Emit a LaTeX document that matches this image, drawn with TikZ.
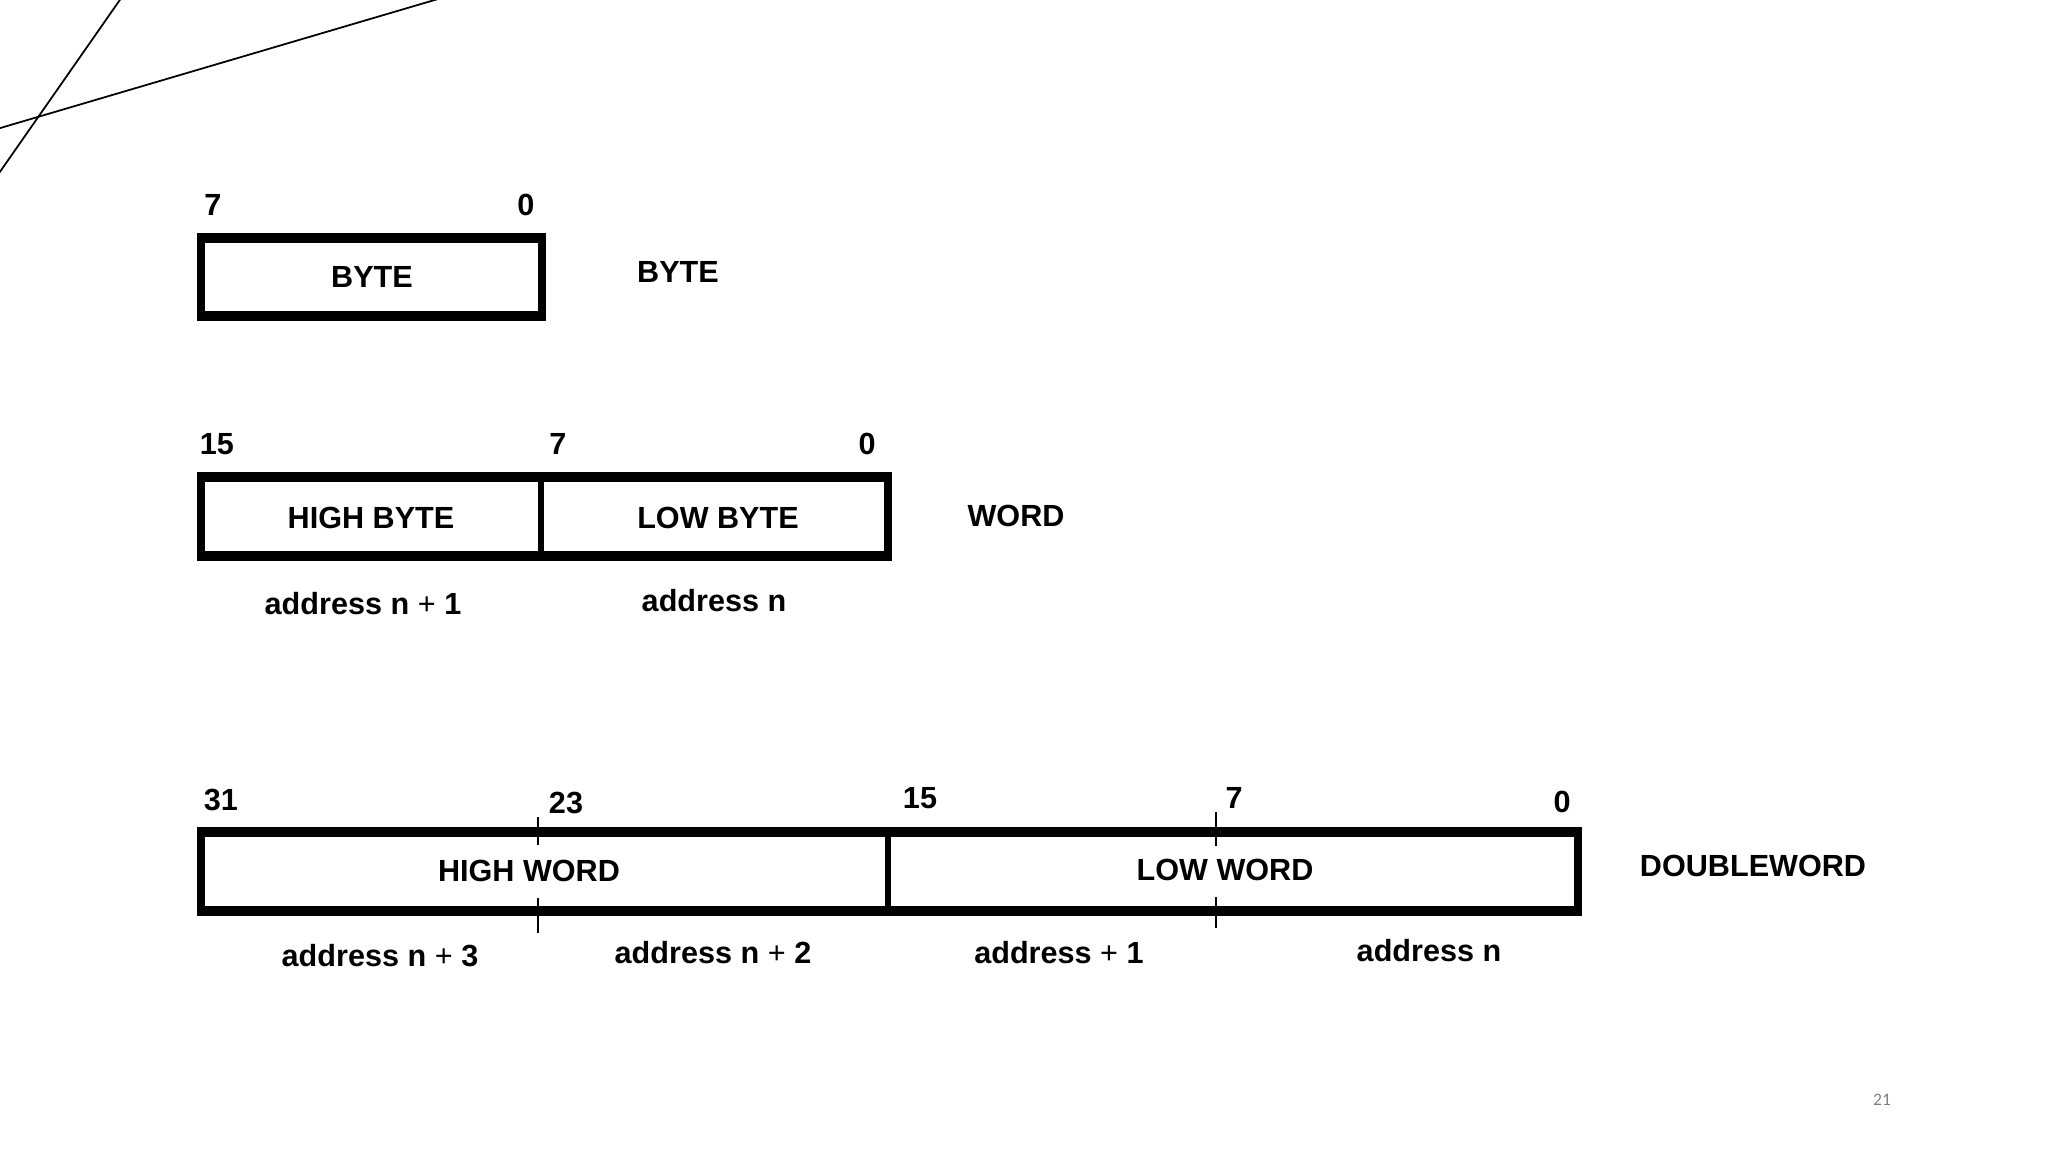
\documentclass[tikz,border=0pt]{standalone}
\usepackage{fontspec}
\setmainfont{Liberation Sans}
\newfontfamily\pgnumfont{Carlito}
\newcommand\plusgap{\hspace{0.28em}{\mdseries+}\hspace{0.28em}}
\tikzset{
  lbl/.style={font=\fontsize{8.7}{10}\selectfont\bfseries, inner sep=0pt, anchor=base},
  regbox/.style={line width=2.2pt},
  hedge/.style={line width=3pt, line cap=rect, shorten <=0.4pt, shorten >=0.4pt},
  divline/.style={line width=1.6pt},
  tickline/.style={line width=0.6pt},
  deco/.style={line width=0.5pt}
}
\begin{document}
\begin{tikzpicture}[x=0.01cm,y=-0.01cm]
\useasboundingbox (0,0) rectangle (2048,1152);
% decorative lines
\begin{scope}
\clip (0,0) rectangle (2048,1152);
\coordinate (d1a) at (-12,189);
\coordinate (d1b) at (124,-6);
\coordinate (d2a) at (-20,134);
\coordinate (d2b) at (455,-6);
\draw[deco] (d1a) -- (d1b);
\draw[deco] (d2a) -- (d2b);
\end{scope}

% BYTE
\draw[regbox] (201,238) rectangle (542,316);
\draw[hedge] (201,238) -- (542,238);
\draw[hedge] (201,316) -- (542,316);
\node[lbl] (b7) at (213,216) {7};
\node[lbl] (b0) at (526,216) {0};
\node[lbl] (bin) at (372,288) {BYTE};
\node[lbl] (bname) at (678,283) {BYTE};

% WORD
\draw[regbox] (201,477) rectangle (888,556);
\draw[hedge] (201,477) -- (888,477);
\draw[hedge] (201,556) -- (888,556);
\draw[divline] (541,477) -- (541,556);
\node[lbl] (w15) at (217,455) {15};
\node[lbl] (w7) at (558,455) {7};
\node[lbl] (w0) at (867,455) {0};
\node[lbl] (whi) at (371,528) {HIGH BYTE};
\node[lbl] (wlo) at (718,528) {LOW BYTE};
\node[lbl] (wname) at (1016,527) {WORD};
\node[lbl] (wa1) at (363,614) {address n\plusgap 1};
\node[lbl] (wa0) at (714,612) {address n};

% DOUBLEWORD
\draw[regbox] (201,832) rectangle (1578,911);
\draw[hedge] (201,832) -- (1578,832);
\draw[hedge] (201,911) -- (1578,911);
\draw[divline] (888,832) -- (888,911);
\coordinate (t1a) at (538,817);
\coordinate (t1b) at (538,845);
\coordinate (t1c) at (538,898);
\coordinate (t1d) at (538,933);
\coordinate (t2a) at (1216,812);
\coordinate (t2b) at (1216,846);
\coordinate (t2c) at (1216,897);
\coordinate (t2d) at (1216,928);
\draw[tickline] (t1a) -- (t1b);
\draw[tickline] (t1c) -- (t1d);
\draw[tickline] (t2a) -- (t2b);
\draw[tickline] (t2c) -- (t2d);
\node[lbl] (d31) at (221,810) {31};
\node[lbl] (d23) at (566,813) {23};
\node[lbl] (d15) at (920,808) {15};
\node[lbl] (d7) at (1234,808) {7};
\node[lbl] (d0) at (1562,812) {0};
\node[lbl] (dhi) at (529,881) {HIGH WORD};
\node[lbl] (dlo) at (1225,880) {LOW WORD};
\node[lbl] (dname) at (1753,876) {DOUBLEWORD};
\node[lbl] (da3) at (380,966) {address n\plusgap 3};
\node[lbl] (da2) at (713,963) {address n\plusgap 2};
\node[lbl] (da1) at (1059,963) {address\plusgap 1};
\node[lbl] (da0) at (1429,961) {address n};

% page number
\node[font=\pgnumfont\fontsize{5}{6}\selectfont, text=black!50, inner sep=0pt] (pg) at (1882,1100) {21};
\end{tikzpicture}
\end{document}
